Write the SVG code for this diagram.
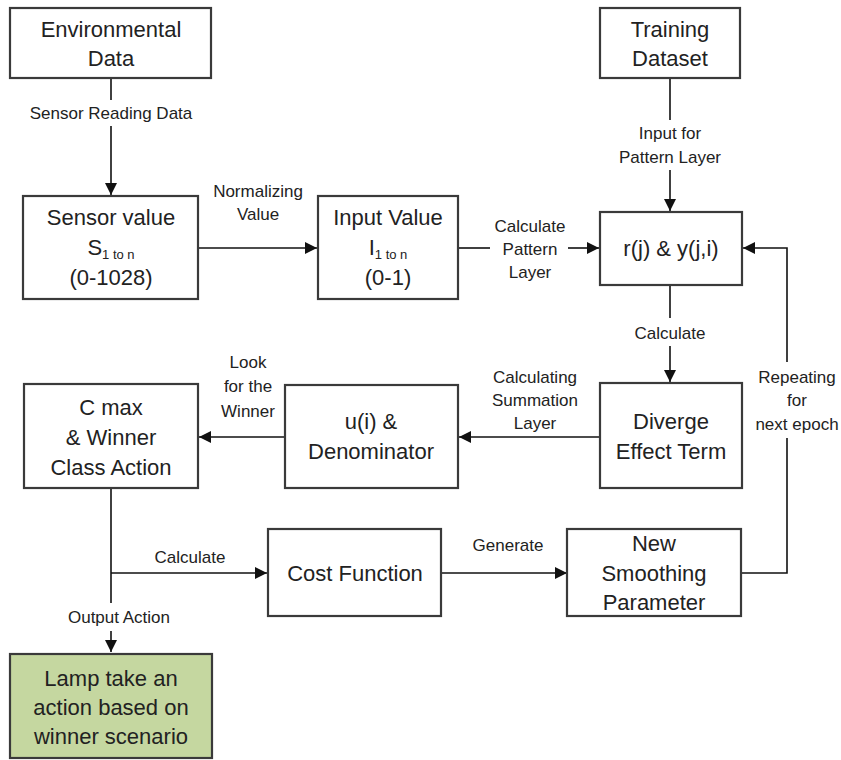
<svg xmlns="http://www.w3.org/2000/svg" width="841" height="760" viewBox="0 0 841 760">
<defs>
<marker id="ah" viewBox="0 0 10 10" refX="10" refY="5" markerWidth="12" markerHeight="12" markerUnits="userSpaceOnUse" orient="auto">
<path d="M0,0 L10,5 L0,10 z" fill="#111"/>
</marker>
<style>
.box{fill:#fff;stroke:#3a3a3a;stroke-width:2.2}
.green{fill:#c5d7a0}
.t{font-family:"Liberation Sans",Arial,sans-serif;font-size:22px;fill:#222;text-anchor:middle}
.s{font-size:13px}
.l{font-family:"Liberation Sans",Arial,sans-serif;font-size:17px;fill:#222;text-anchor:middle}
.c{fill:none;stroke:#111;stroke-width:1.6}
</style>
</defs>
<rect width="841" height="760" fill="#fff"/>
<g id="connectors">
<path class="c" d="M111,78 V100"/>
<path class="c" d="M111,126 V195" marker-end="url(#ah)"/>
<path class="c" d="M670,78 V120"/>
<path class="c" d="M670,170 V211" marker-end="url(#ah)"/>
<path class="c" d="M198,248 H317" marker-end="url(#ah)"/>
<path class="c" d="M458,248 H490"/>
<path class="c" d="M568,248 H599" marker-end="url(#ah)"/>
<path class="c" d="M670,285 V318"/>
<path class="c" d="M670,346 V382" marker-end="url(#ah)"/>
<path class="c" d="M600,437 H459" marker-end="url(#ah)"/>
<path class="c" d="M285,437 H199" marker-end="url(#ah)"/>
<path class="c" d="M111,488 V603"/>
<path class="c" d="M111,631 V652" marker-end="url(#ah)"/>
<path class="c" d="M111,573 H267" marker-end="url(#ah)"/>
<path class="c" d="M441,573 H567" marker-end="url(#ah)"/>
<path class="c" d="M741,573 H787 V438"/>
<path class="c" d="M787,362 V248 H743" marker-end="url(#ah)"/>
</g>
<g id="labels">
<text class="l" x="111" y="119">Sensor Reading Data</text>
<text class="l" x="670" y="139">Input for</text>
<text class="l" x="670" y="163">Pattern Layer</text>
<text class="l" x="258" y="197">Normalizing</text>
<text class="l" x="258" y="220">Value</text>
<text class="l" x="530" y="232">Calculate</text>
<text class="l" x="530" y="255">Pattern</text>
<text class="l" x="530" y="278">Layer</text>
<text class="l" x="670" y="339">Calculate</text>
<text class="l" x="535" y="383">Calculating</text>
<text class="l" x="535" y="406">Summation</text>
<text class="l" x="535" y="429">Layer</text>
<text class="l" x="248" y="368">Look</text>
<text class="l" x="248" y="392">for the</text>
<text class="l" x="248" y="417">Winner</text>
<text class="l" x="797" y="383">Repeating</text>
<text class="l" x="797" y="406">for</text>
<text class="l" x="797" y="430">next epoch</text>
<text class="l" x="190" y="563">Calculate</text>
<text class="l" x="508" y="551">Generate</text>
<text class="l" x="119" y="623">Output Action</text>
</g>
<g id="env"><rect class="box" x="10" y="8" width="201" height="70"/>
<text class="t" x="111" y="37">Environmental</text><text class="t" x="111" y="66">Data</text></g>
<g id="train"><rect class="box" x="600" y="8" width="140" height="70"/>
<text class="t" x="670" y="37">Training</text><text class="t" x="670" y="66">Dataset</text></g>
<g id="sensor"><rect class="box" x="23" y="196" width="175" height="103"/>
<text class="t" x="111" y="225">Sensor value</text>
<text class="t" x="111" y="255">S<tspan class="s" dy="4">1 to n</tspan></text>
<text class="t" x="111" y="285">(0-1028)</text></g>
<g id="input"><rect class="box" x="318" y="196" width="140" height="103"/>
<text class="t" x="388" y="225">Input Value</text>
<text class="t" x="388" y="255">I<tspan class="s" dy="4">1 to n</tspan></text>
<text class="t" x="388" y="285">(0-1)</text></g>
<g id="rj"><rect class="box" x="600" y="212" width="142" height="73"/>
<text class="t" x="671" y="256">r(j) &amp; y(j,i)</text></g>
<g id="diverge"><rect class="box" x="600" y="383" width="142" height="105"/>
<text class="t" x="671" y="429">Diverge</text><text class="t" x="671" y="459">Effect Term</text></g>
<g id="ui"><rect class="box" x="285" y="385" width="173" height="103"/>
<text class="t" x="371" y="429">u(i) &amp;</text><text class="t" x="371" y="459">Denominator</text></g>
<g id="cmax"><rect class="box" x="24" y="384" width="174" height="104"/>
<text class="t" x="111" y="415">C max</text><text class="t" x="111" y="445">&amp; Winner</text><text class="t" x="111" y="475">Class Action</text></g>
<g id="cost"><rect class="box" x="268" y="529" width="173" height="87"/>
<text class="t" x="355" y="581">Cost Function</text></g>
<g id="smooth"><rect class="box" x="567" y="529" width="174" height="87"/>
<text class="t" x="654" y="551">New</text><text class="t" x="654" y="581">Smoothing</text><text class="t" x="654" y="610">Parameter</text></g>
<g id="lamp"><rect class="box green" x="10" y="654" width="202" height="104"/>
<text class="t" x="111" y="686">Lamp take an</text><text class="t" x="111" y="715">action based on</text><text class="t" x="111" y="744">winner scenario</text></g>
</svg>
